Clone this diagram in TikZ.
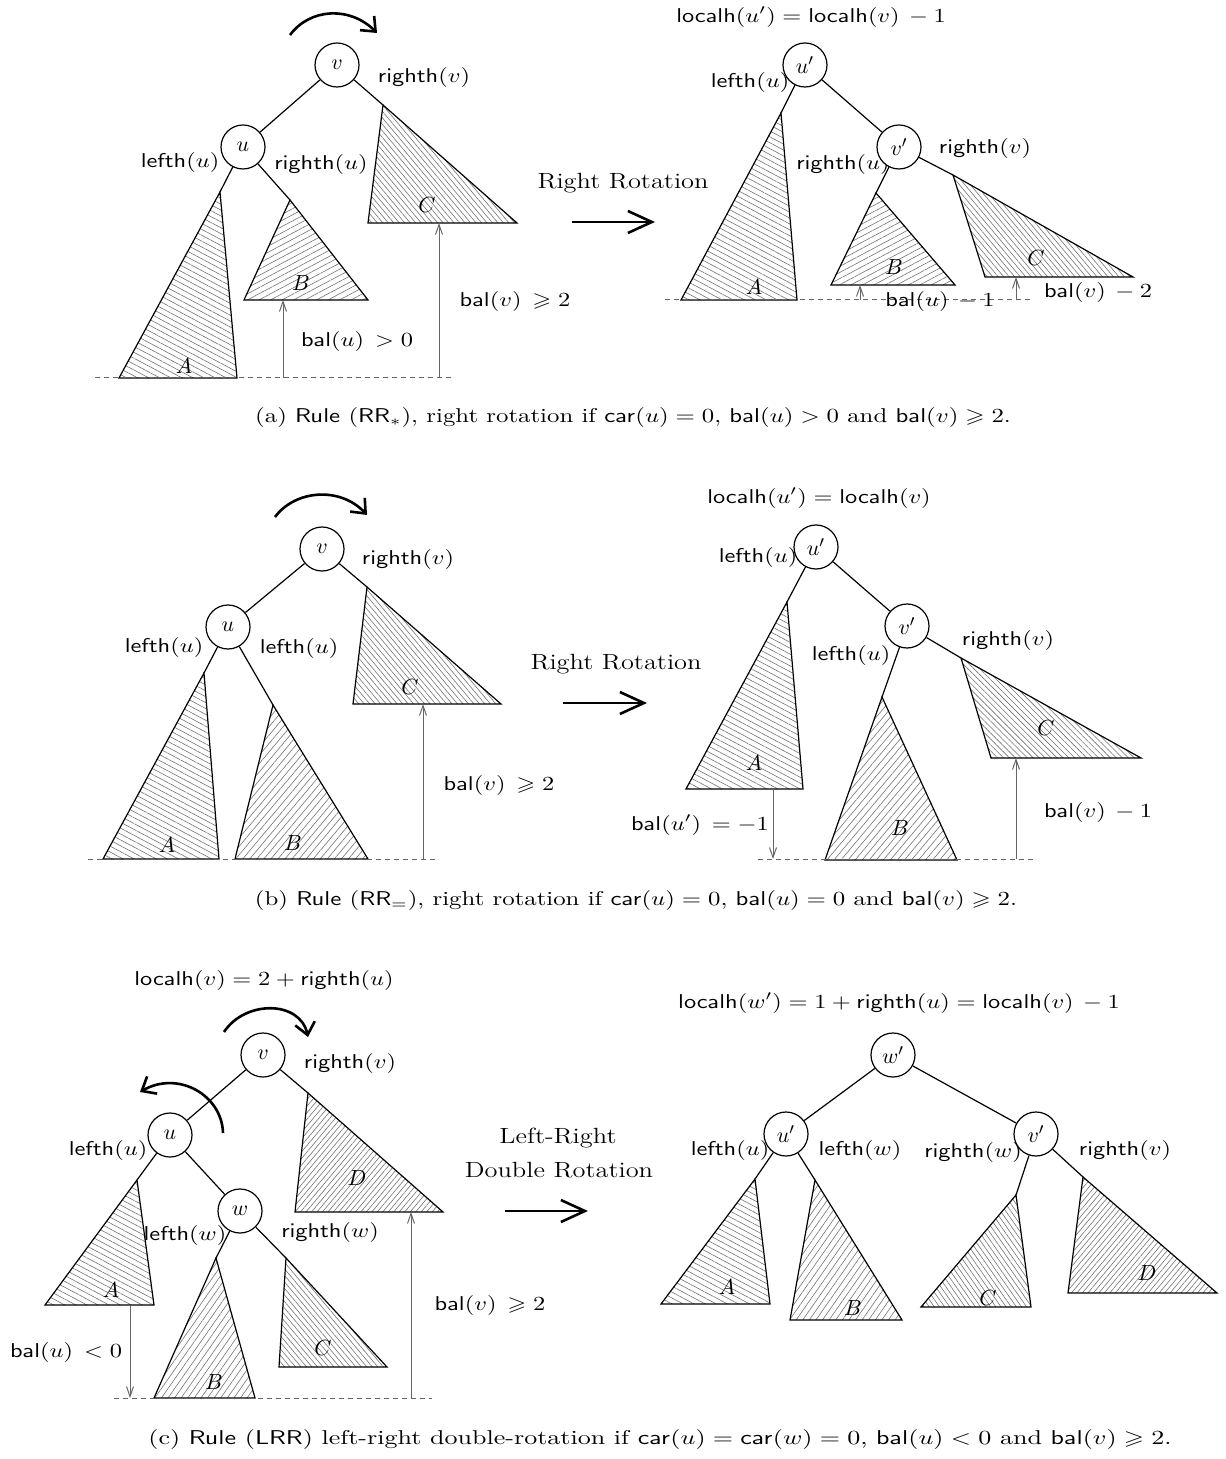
\documentclass[tikz,border=0pt]{standalone}
\usepackage{amssymb}
\usetikzlibrary{patterns.meta,arrows.meta}
\newcommand{\sfm}[1]{\mathsf{#1}}
\begin{document}
\begin{tikzpicture}[x=0.5pt,y=-0.5pt,
  nd/.style={circle,draw,line width=0.6pt,fill=white,minimum size=22pt,inner sep=0pt,font=\fontsize{11}{13}\selectfont},
  tri/.style={draw,line width=0.6pt,pattern color=black!55},
  hA/.style={tri,pattern={Lines[angle=-28,distance=2.6pt,line width=0.3pt]}},
  hB/.style={tri,pattern={Lines[angle=#1,distance=2.7pt,line width=0.3pt]}},
  hC/.style={tri,pattern={Lines[angle=#1,distance=2.1pt,line width=0.3pt]}},
  tedge/.style={line width=0.6pt},
  lab/.style={inner sep=0pt,xscale=1.22,font=\fontsize{10}{12}\selectfont},
  tl/.style={inner sep=0pt,font=\fontsize{11}{13}\selectfont},
  captxt/.style={inner sep=0pt,xscale=1.24,font=\fontsize{10}{12}\selectfont},
  rtext/.style={inner sep=0pt,xscale=1.2,font=\fontsize{11}{13}\selectfont},
  balarr/.style={draw=black!60,line width=0.5pt,-{Straight Barb[length=5pt,width=3.5pt]}},
  baseln/.style={draw=black!60,line width=0.5pt,dash pattern=on 2.5pt off 2pt},
  rotarr/.style={line width=1.3pt,-{Straight Barb[length=6pt,width=10pt]}},
  bigarr/.style={line width=1.3pt,-{Straight Barb[length=12pt,width=11pt]}}
]
\useasboundingbox (0,0) rectangle (1225,1459);

%%%%%%%%%%%%%%%% (a) left
\draw[hA] (220,192) coordinate (aA) -- (119,378) -- (237,378) -- cycle;
\draw[hB=28] (290,200) coordinate (aB) -- (244,300) -- (368,300) -- cycle;
\draw[hC=-50] (383,105) coordinate (aC) -- (368,223) -- (517,223) -- cycle;
\coordinate (aL1) at (95,378); \coordinate (aL2) at (455,378);
\draw[baseln] (aL1) -- (aL2);
\coordinate (ab1s) at (283,378); \coordinate (ab1e) at (283,300);
\draw[balarr] (ab1s) -- (ab1e);
\coordinate (ab2s) at (439,378); \coordinate (ab2e) at (439,223);
\draw[balarr] (ab2s) -- (ab2e);
\coordinate (ar1) at (290,35); \coordinate (ar2) at (377,33);
\draw[rotarr] (ar1) .. controls (310,8) and (350,6) .. (ar2);
\node[tl] (aAl) at (184,366) {$A$};
\node[tl] (aBl) at (301,283) {$B$};
\node[tl] (aCl) at (427,205) {$C$};
\node[lab] (al1) at (424,78) {$\sfm{righth}(v)$};
\node[lab] (al2) at (180,163) {$\sfm{lefth}(u)$};
\node[lab] (al3) at (321,165) {$\sfm{righth}(u)$};
\node[lab] (al4) at (357,342) {$\sfm{bal}(u)\,>0$};
\node[lab] (al5) at (515,302) {$\sfm{bal}(v)\,\geqslant 2$};
\node[nd] (av) at (337,65) {$v$};
\node[nd] (au) at (243,147) {$u$};
\draw[tedge] (av) -- (au);
\draw[tedge] (av) -- (aC);
\draw[tedge] (au) -- (aA);
\draw[tedge] (au) -- (aB);

%%%%%%%%%%%%%%%% (a) arrow
\node[rtext] (ta) at (623,183) {Right Rotation};
\coordinate (ra1) at (572,222); \coordinate (ra2) at (655,222);
\draw[bigarr] (ra1) -- (ra2);

%%%%%%%%%%%%%%%% (a) right
\draw[hA] (781,113) coordinate (apA) -- (681,300) -- (797,300) -- cycle;
\draw[hB=28] (876,193) coordinate (apB) -- (831,285) -- (955,285) -- cycle;
\draw[hC=-50] (953,175) coordinate (apC) -- (985,277) -- (1133,277) -- cycle;
\coordinate (apL1) at (665,300); \coordinate (apL2) at (1032,300);
\draw[baseln] (apL1) -- (apL2);
\coordinate (apb1s) at (860,300); \coordinate (apb1e) at (860,285);
\draw[balarr] (apb1s) -- (apb1e);
\coordinate (apb2s) at (1016,300); \coordinate (apb2e) at (1016,277);
\draw[balarr] (apb2s) -- (apb2e);
\node[tl] (apAl) at (754,287) {$A$};
\node[tl] (apBl) at (894,267) {$B$};
\node[tl] (apCl) at (1036,258) {$C$};
\node[lab] (apl0) at (811,17) {$\sfm{localh}(u')=\sfm{localh}(v)\,-1$};
\node[lab] (apl1) at (750,83) {$\sfm{lefth}(u)$};
\node[lab] (apl2) at (843,165) {$\sfm{righth}(u)$};
\node[lab] (apl3) at (985,149) {$\sfm{righth}(v)$};
\node[lab] (apl4) at (940,302) {$\sfm{bal}(u)\,-1$};
\node[lab] (apl5) at (1098,293) {$\sfm{bal}(v)\,-2$};
\node[nd] (aup) at (805,65) {$u'$};
\node[nd] (avp) at (899,147) {$v'$};
\draw[tedge] (aup) -- (avp);
\draw[tedge] (aup) -- (apA);
\draw[tedge] (avp) -- (apB);
\draw[tedge] (avp) -- (apC);

\node[captxt] (capa) at (633,418) {(a) \textsf{Rule} ($\sfm{RR}_*$), right rotation if $\sfm{car}(u)=0$, $\sfm{bal}(u)>0$ and $\sfm{bal}(v)\geqslant 2$.};

%%%%%%%%%%%%%%%% (b) left
\draw[hA] (204,673) coordinate (bA) -- (103,859) -- (219,859) -- cycle;
\draw[hB=50] (273,705) coordinate (bB) -- (235,859) -- (368,859) -- cycle;
\draw[hC=-50] (367,587) coordinate (bC) -- (353,704) -- (501,704) -- cycle;
\coordinate (bL1) at (88,859); \coordinate (bL2) at (436,859);
\draw[baseln] (bL1) -- (bL2);
\coordinate (bb1s) at (423,859); \coordinate (bb1e) at (423,704);
\draw[balarr] (bb1s) -- (bb1e);
\coordinate (br1) at (275,517); \coordinate (br2) at (367,515);
\draw[rotarr] (br1) .. controls (295,490) and (340,486) .. (br2);
\node[tl] (bAl) at (167,845) {$A$};
\node[tl] (bBl) at (293,843) {$B$};
\node[tl] (bCl) at (410,687) {$C$};
\node[lab] (bl1) at (408,559) {$\sfm{righth}(v)$};
\node[lab] (bl2) at (164,647) {$\sfm{lefth}(u)$};
\node[lab] (bl3) at (299,648) {$\sfm{lefth}(u)$};
\node[lab] (bl4) at (499,785) {$\sfm{bal}(v)\,\geqslant 2$};
\node[nd] (bv) at (322,549) {$v$};
\node[nd] (bu) at (228,627) {$u$};
\draw[tedge] (bv) -- (bu);
\draw[tedge] (bv) -- (bC);
\draw[tedge] (bu) -- (bA);
\draw[tedge] (bu) -- (bB);

%%%%%%%%%%%%%%%% (b) arrow
\node[rtext] (tb) at (616,664) {Right Rotation};
\coordinate (rb1) at (563,703); \coordinate (rb2) at (647,703);
\draw[bigarr] (rb1) -- (rb2);

%%%%%%%%%%%%%%%% (b) right
\draw[hA] (787,602) coordinate (bpA) -- (686,789) -- (803,789) -- cycle;
\draw[hB=50] (882,697) coordinate (bpB) -- (825,860) -- (957,860) -- cycle;
\draw[hC=-45] (961,658) coordinate (bpC) -- (991,758) -- (1141,758) -- cycle;
\coordinate (bpL1) at (758,859); \coordinate (bpL2) at (1034,859);
\draw[baseln] (bpL1) -- (bpL2);
\coordinate (bpb1s) at (773,789); \coordinate (bpb1e) at (773,859);
\draw[balarr] (bpb1s) -- (bpb1e);
\coordinate (bpb2s) at (1016,859); \coordinate (bpb2e) at (1016,758);
\draw[balarr] (bpb2s) -- (bpb2e);
\node[tl] (bpAl) at (754,763) {$A$};
\node[tl] (bpBl) at (900,828) {$B$};
\node[tl] (bpCl) at (1046,728) {$C$};
\node[lab] (bpl0) at (819,498) {$\sfm{localh}(u')=\sfm{localh}(v)$};
\node[lab] (bpl1) at (758,557) {$\sfm{lefth}(u)$};
\node[lab] (bpl2) at (851,655) {$\sfm{lefth}(u)$};
\node[lab] (bpl3) at (1008,640) {$\sfm{righth}(v)$};
\node[lab] (bpl4) at (700,825) {$\sfm{bal}(u')\,=-1$};
\node[lab] (bpl5) at (1098,812) {$\sfm{bal}(v)\,-1$};
\node[nd] (bup) at (816,547) {$u'$};
\node[nd] (bvp) at (907,626) {$v'$};
\draw[tedge] (bup) -- (bvp);
\draw[tedge] (bup) -- (bpA);
\draw[tedge] (bvp) -- (bpB);
\draw[tedge] (bvp) -- (bpC);

\node[captxt] (capb) at (636,900) {(b) \textsf{Rule} ($\sfm{RR}_=$), right rotation if $\sfm{car}(u)=0$, $\sfm{bal}(u)=0$ and $\sfm{bal}(v)\geqslant 2$.};

%%%%%%%%%%%%%%%% (c) left
\draw[hA] (137,1180) coordinate (cA) -- (45,1305) -- (154,1305) -- cycle;
\draw[hB=55] (216,1258) coordinate (cB) -- (154,1398) -- (255,1398) -- cycle;
\draw[hC=-50] (286,1258) coordinate (cC) -- (279,1367) -- (387,1367) -- cycle;
\draw[hC=50] (308,1093) coordinate (cD) -- (295,1212) -- (443,1212) -- cycle;
\coordinate (cL1) at (114,1398); \coordinate (cL2) at (432,1398);
\draw[baseln] (cL1) -- (cL2);
\coordinate (cb1s) at (130,1305); \coordinate (cb1e) at (130,1398);
\draw[balarr] (cb1s) -- (cb1e);
\coordinate (cb2s) at (411,1398); \coordinate (cb2e) at (411,1212);
\draw[balarr] (cb2s) -- (cb2e);
\coordinate (cr1) at (224,1032); \coordinate (cr2) at (308,1037);
\draw[rotarr] (cr1) .. controls (245,1000) and (300,1000) .. (cr2);
\coordinate (cr3) at (223,1133); \coordinate (cr4) at (140,1092);
\draw[rotarr] (cr3) .. controls (222,1095) and (178,1070) .. (cr4);
\node[tl] (cAl) at (111,1290) {$A$};
\node[tl] (cBl) at (214,1382) {$B$};
\node[tl] (cCl) at (323,1348) {$C$};
\node[tl] (cDl) at (357,1178) {$D$};
\node[lab] (cl0) at (264,980) {$\sfm{localh}(v)=2+\sfm{righth}(u)$};
\node[lab] (cl1) at (350,1063) {$\sfm{righth}(v)$};
\node[lab] (cl2) at (108,1150) {$\sfm{lefth}(u)$};
\node[lab] (cl3) at (185,1235) {$\sfm{lefth}(w)$};
\node[lab] (cl4) at (330,1232) {$\sfm{righth}(w)$};
\node[lab] (cl5) at (66,1352) {$\sfm{bal}(u)\,<0$};
\node[lab] (cl6) at (490,1305) {$\sfm{bal}(v)\,\geqslant 2$};
\node[nd] (cv) at (263,1055) {$v$};
\node[nd] (cu) at (170,1135) {$u$};
\node[nd] (cw) at (240,1211) {$w$};
\draw[tedge] (cv) -- (cu);
\draw[tedge] (cv) -- (cD);
\draw[tedge] (cu) -- (cA);
\draw[tedge] (cu) -- (cw);
\draw[tedge] (cw) -- (cB);
\draw[tedge] (cw) -- (cC);

%%%%%%%%%%%%%%%% (c) arrow
\node[rtext] (tc1) at (558,1138) {Left-Right};
\node[rtext] (tc2) at (559,1170) {Double Rotation};
\coordinate (rc1) at (505,1211); \coordinate (rc2) at (588,1211);
\draw[bigarr] (rc1) -- (rc2);

%%%%%%%%%%%%%%%% (c) right
\draw[hA] (755,1179) coordinate (cpA) -- (661,1304) -- (770,1304) -- cycle;
\draw[hB=55] (815,1180) coordinate (cpB) -- (790,1320) -- (902,1320) -- cycle;
\draw[hC=-55] (1016,1195) coordinate (cpC) -- (921,1307) -- (1031,1307) -- cycle;
\draw[hC=50] (1083,1177) coordinate (cpD) -- (1068,1293) -- (1217,1293) -- cycle;
\node[tl] (cpAl) at (727,1287) {$A$};
\node[tl] (cpBl) at (853,1308) {$B$};
\node[tl] (cpCl) at (988,1298) {$C$};
\node[tl] (cpDl) at (1147,1273) {$D$};
\node[lab] (cpl0) at (899,1003) {$\sfm{localh}(w')=1+\sfm{righth}(u)=\sfm{localh}(v)\,-1$};
\node[lab] (cpl1) at (730,1150) {$\sfm{lefth}(u)$};
\node[lab] (cpl2) at (860,1150) {$\sfm{lefth}(w)$};
\node[lab] (cpl3) at (973,1152) {$\sfm{righth}(w)$};
\node[lab] (cpl4) at (1125,1150) {$\sfm{righth}(v)$};
\node[nd] (cwp) at (893,1055) {$w'$};
\node[nd] (cup) at (786,1134) {$u'$};
\node[nd] (cvp) at (1036,1134) {$v'$};
\draw[tedge] (cwp) -- (cup);
\draw[tedge] (cwp) -- (cvp);
\draw[tedge] (cup) -- (cpA);
\draw[tedge] (cup) -- (cpB);
\draw[tedge] (cvp) -- (cpC);
\draw[tedge] (cvp) -- (cpD);

\node[captxt,xscale=1.05] (capc) at (660,1439) {(c) \textsf{Rule} ($\sfm{LRR}$) left-right double-rotation if $\sfm{car}(u)=\sfm{car}(w)=0$, $\sfm{bal}(u)<0$ and $\sfm{bal}(v)\geqslant 2$.};
\end{tikzpicture}
\end{document}
